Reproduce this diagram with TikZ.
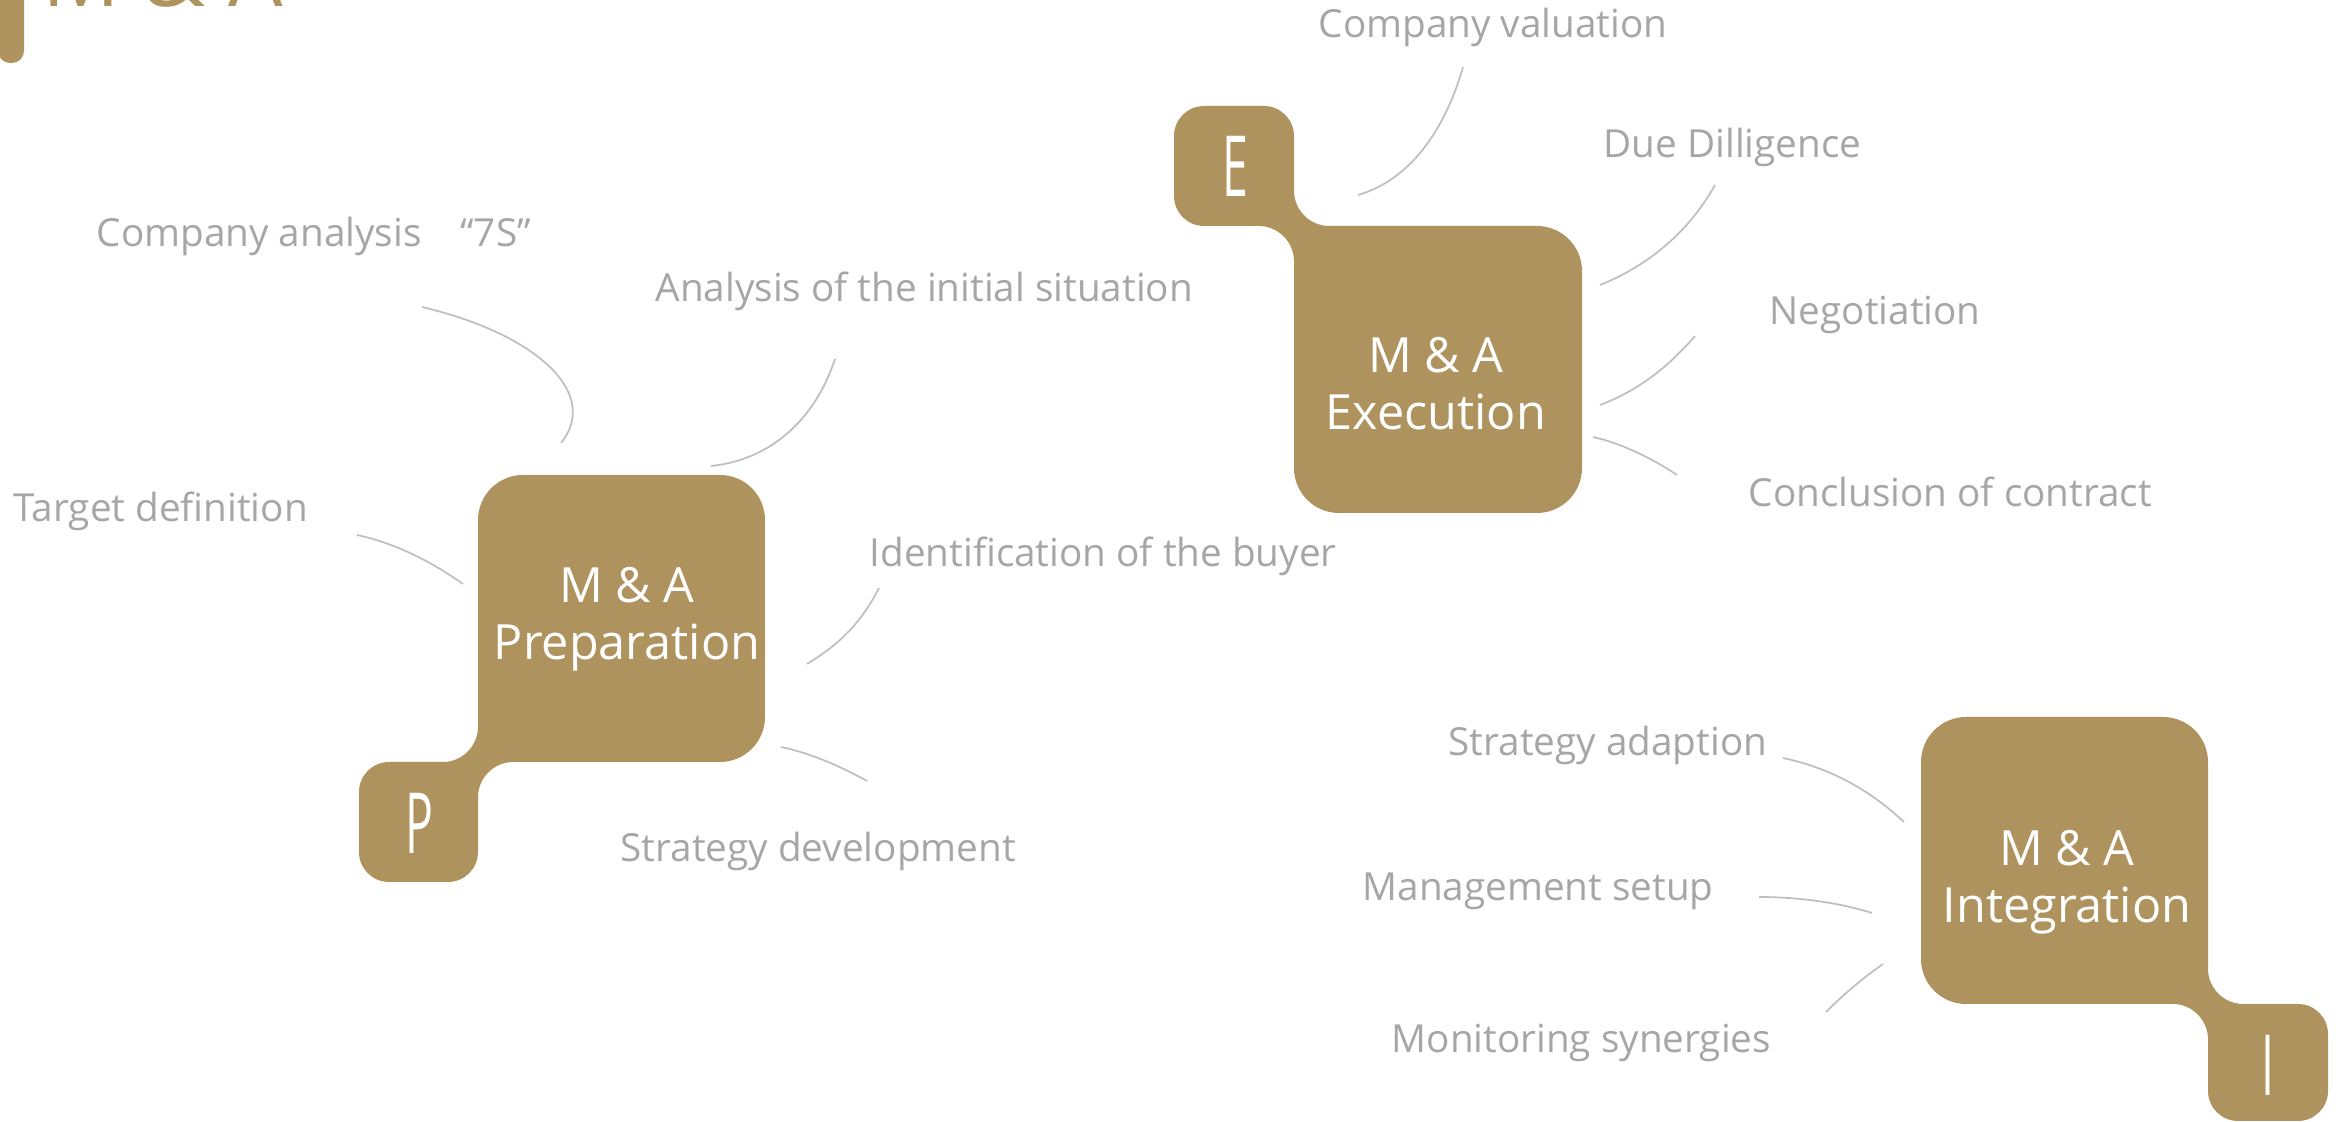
\documentclass[tikz,border=0pt]{standalone}
\usepackage{fontspec}
\usepackage{graphicx}
\setmainfont{Open Sans}
\usepackage{tikz}

\definecolor{gold}{RGB}{175,147,94}
\definecolor{itemgrey}{RGB}{166,166,166}
\definecolor{linkgrey}{RGB}{191,191,191}

\tikzset{
    phase/.style={text=white, font=\fontsize{13.8}{16.2}\selectfont, align=center, inner sep=0pt, anchor=north},
    letter/.style={text=white, font=\fontsize{24}{24}\selectfont, inner sep=0pt},
    item/.style={text=itemgrey, font=\fontsize{11}{13}\selectfont, anchor=base west, inner sep=0pt},
    link/.style={draw=linkgrey, line width=0.5pt}
}

\begin{document}
\begin{tikzpicture}[x=0.01cm, y=-0.01cm]
    \useasboundingbox (0,0) rectangle (2341,1122);
    \clip (0,0) rectangle (2341,1122);

    % title
    \fill[gold, rounded corners=0.12cm] (-2,-40) rectangle (24,63);
    \node[text=gold, font=\fontsize{24.5}{27}\selectfont, anchor=base west, inner sep=0pt] (title) at (42,7) {M \& A};

    % preparation
    \fill[gold] [rounded corners=0.45cm] (478,475) rectangle (765,762)
        [rounded corners=0.3cm] (359,762) rectangle (478,882)
        [sharp corners] (478,717) rectangle (523,762) (448,762) rectangle (478,792)
        (478,762) -- (513,762) .. controls (494,762) and (478,778) .. (478,797) -- cycle
        (478,762) -- (443,762) .. controls (462,762) and (478,746) .. (478,727) -- cycle;
    \node[phase] (prep) at (627,567) {M \& A\\Preparation};
    \node[letter] (P) at (419,823) {\scalebox{0.55}[1]{P}};

    % execution
    \fill[gold] [rounded corners=0.45cm] (1294,226) rectangle (1582,513)
        [rounded corners=0.3cm] (1174,106) rectangle (1294,226)
        [sharp corners] (1294,226) rectangle (1339,271) (1264,196) rectangle (1294,226)
        (1294,226) -- (1329,226) .. controls (1310,226) and (1294,210) .. (1294,191) -- cycle
        (1294,226) -- (1259,226) .. controls (1278,226) and (1294,242) .. (1294,261) -- cycle;
    \node[phase] (exec) at (1436,337) {M \& A\\Execution};
    \node[letter] (E) at (1235,166) {\scalebox{0.55}[1]{E}};

    % integration
    \fill[gold] [rounded corners=0.45cm] (1921,717) rectangle (2208,1004)
        [rounded corners=0.3cm] (2208,1004) rectangle (2328,1121)
        [sharp corners] (2163,959) rectangle (2208,1004) (2208,1004) rectangle (2238,1034)
        (2208,1004) -- (2243,1004) .. controls (2224,1004) and (2208,988) .. (2208,969) -- cycle
        (2208,1004) -- (2173,1004) .. controls (2192,1004) and (2208,1020) .. (2208,1039) -- cycle;
    \node[phase] (integ) at (2067,830) {M \& A\\Integration};
    \node[letter] (I) at (2268,1065) {\scalebox{0.55}[1]{I}};

    % items
    \node[item] (analysis7s) at (96,247) {Company analysis\quad “7S”};
    \node[item] (situation) at (655,302) {Analysis of the initial situation};
    \node[item] (target) at (13,522) {Target definition};
    \node[item] (buyer) at (869,567) {Identification of the buyer};
    \node[item] (stratdev) at (620,862) {Strategy development};
    \node[item] (valuation) at (1318,38) {Company valuation};
    \node[item] (diligence) at (1603,158) {Due Dilligence};
    \node[item] (negotiation) at (1769,325) {Negotiation};
    \node[item] (contract) at (1748,507) {Conclusion of contract};
    \node[item] (adaption) at (1448,756) {Strategy adaption};
    \node[item] (setup) at (1362,901) {Management setup};
    \node[item] (synergies) at (1391,1053) {Monitoring synergies};

    % link ends
    \coordinate (analysis7s-end) at (422,307);
    \coordinate (prep-a) at (561,443);
    \coordinate (situation-end) at (835,359);
    \coordinate (prep-b) at (711,466);
    \coordinate (target-end) at (357,535);
    \coordinate (prep-c) at (463,584);
    \coordinate (buyer-end) at (879,588);
    \coordinate (prep-d) at (807,664);
    \coordinate (stratdev-end) at (867,781);
    \coordinate (prep-e) at (781,747);
    \coordinate (valuation-end) at (1463,67);
    \coordinate (exec-a) at (1358,195);
    \coordinate (diligence-end) at (1715,185);
    \coordinate (exec-b) at (1600,285);
    \coordinate (negotiation-end) at (1695,336);
    \coordinate (exec-c) at (1600,405);
    \coordinate (contract-end) at (1677,475);
    \coordinate (exec-d) at (1593,437);
    \coordinate (adaption-end) at (1783,758);
    \coordinate (integ-a) at (1904,822);
    \coordinate (setup-end) at (1759,897);
    \coordinate (integ-b) at (1872,913);
    \coordinate (synergies-end) at (1826,1012);
    \coordinate (integ-c) at (1883,964);

    % links
    \draw[link] (analysis7s-end) .. controls (540,335) and (600,395) .. (prep-a);
    \draw[link] (situation-end) .. controls (815,420) and (770,460) .. (prep-b);
    \draw[link] (target-end) .. controls (395,543) and (432,562) .. (prep-c);
    \draw[link] (buyer-end) .. controls (860,625) and (838,645) .. (prep-d);
    \draw[link] (prep-e) .. controls (810,753) and (840,766) .. (stratdev-end);
    \draw[link] (valuation-end) .. controls (1445,130) and (1410,180) .. (exec-a);
    \draw[link] (diligence-end) .. controls (1690,230) and (1650,265) .. (exec-b);
    \draw[link] (negotiation-end) .. controls (1670,365) and (1640,390) .. (exec-c);
    \draw[link] (exec-d) .. controls (1620,443) and (1650,457) .. (contract-end);
    \draw[link] (adaption-end) .. controls (1830,768) and (1870,790) .. (integ-a);
    \draw[link] (setup-end) .. controls (1800,897) and (1840,903) .. (integ-b);
    \draw[link] (synergies-end) .. controls (1845,993) and (1863,978) .. (integ-c);
\end{tikzpicture}
\end{document}
